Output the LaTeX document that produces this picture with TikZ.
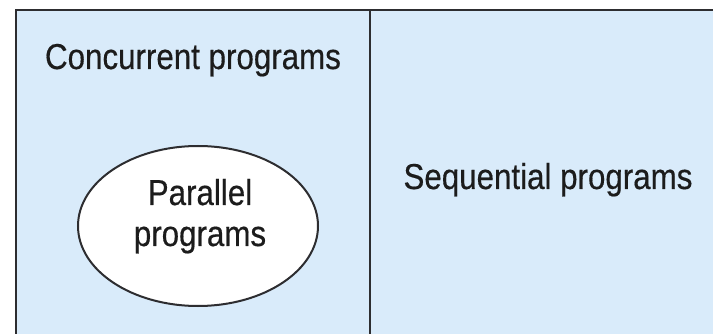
\documentclass[tikz,border=0pt]{standalone}
\usepackage{fontspec}
\setmainfont{Liberation Sans}[FakeStretch=0.87,FakeBold=0.4]
\usetikzlibrary{shapes.geometric}
\definecolor{setfill}{RGB}{217,235,250}
\definecolor{edge}{RGB}{45,45,48}
\definecolor{ink}{RGB}{28,28,28}
\begin{document}
\begin{tikzpicture}[x=1pt,y=-1pt,
  frame/.style={draw=edge,line width=2pt},
  label/.style={text=ink,font=\fontsize{36}{41}\selectfont,inner sep=0pt,anchor=base}]
\useasboundingbox (0,0) rectangle (713,334);
% outer region, running past the right and bottom edges
\fill[setfill] (16,10) rectangle (720,340);
\draw[frame] (16,340) -- (16,10) -- (720,10);
\draw[frame] (370,10) -- (370,340);
% inner set
\node[frame,fill=white,ellipse,minimum width=240pt,minimum height=160pt,inner sep=0pt] (par) at (198,226) {};
\node[label] (partop) at (200,205) {Parallel};
\node[label] (parbot) at (200,246) {programs};
\node[label] (conc) at (193,69) {Concurrent programs};
\node[label] (seq) at (548,189) {Sequential programs};
\end{tikzpicture}
\end{document}
